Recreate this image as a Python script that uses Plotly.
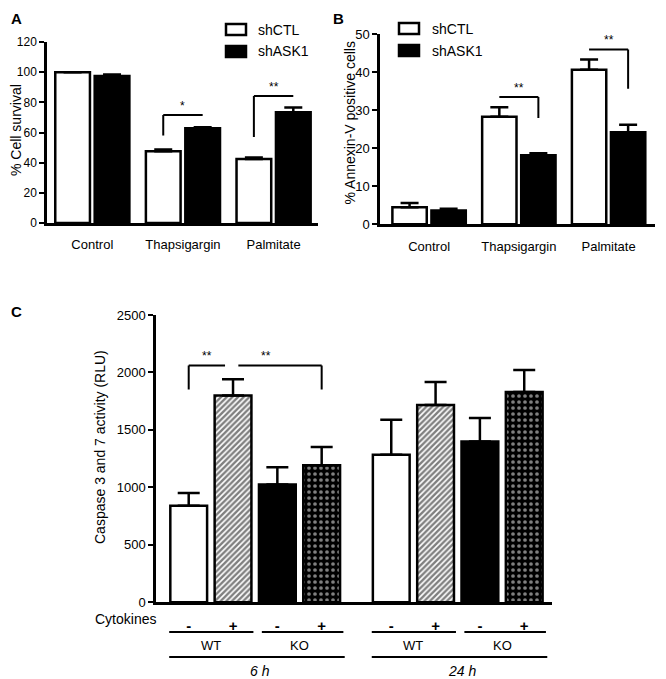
import plotly.graph_objects as go

W, H = 666, 679
# the page body adds an 8px margin, so everything is placed 8px up/left
OFF = 8

# ---- panel A: % cell survival ----
groups = ["Control", "Thapsigargin", "Palmitate"]
surv_shCTL = [100, 47.5, 42.5]
surv_shCTL_err = [0, 1.3, 1.0]
surv_shASK1 = [97.5, 62.8, 73.5]
surv_shASK1_err = [1.0, 0.7, 3.0]

# ---- panel B: % annexin-V positive cells ----
annex_shCTL = [4.5, 28.3, 40.7]
annex_shCTL_err = [1.1, 2.5, 2.7]
annex_shASK1 = [3.6, 18.2, 24.2]
annex_shASK1_err = [0.5, 0.5, 2.0]

# ---- panel C: caspase 3/7 activity ----
time_labels = ["6 h", "24 h"]
geno_labels = ["WT", "KO"]
cyto_labels = ["-", "+", "-", "+"]
casp_6h = [840, 1800, 1024, 1192]
casp_6h_err = [111, 142, 151, 160]
casp_24h = [1283, 1716, 1399, 1829]
casp_24h_err = [305, 200, 204, 192]

# significance brackets: (group, line y, drop y, label)
sig_A = [(1, 71.6, 58, "*"), (2, 84.2, 57, "**")]
sig_B = [(1, 33.5, 28, "**"), (2, 46, 35.7, "**")]

FONT = "Liberation Sans, Arial, sans-serif"


# window pixel -> paper fraction
def px(x):
    return (x - OFF) / W


def py(y):
    return 1 - (y - OFF) / H


def note(x, y, text, size=13, xref="paper", yref="paper", xa="center", ya="middle", angle=0):
    return dict(x=x, y=y, xref=xref, yref=yref, text=text, showarrow=False,
                xanchor=xa, yanchor=ya, textangle=angle, font=dict(size=size))


fig = go.Figure()

# bar styles for the two shRNA series
white = dict(color="white", line=dict(color="black", width=2.5))
black = dict(color="black", line=dict(color="black", width=2.5))


def err(a, w):
    return dict(type="data", array=a, arrayminus=[0] * len(a), symmetric=False,
                color="black", thickness=2.5, width=w)


fig.add_trace(go.Bar(x=groups, y=surv_shCTL, marker=white, error_y=err(surv_shCTL_err, 9),
                     xaxis="x", yaxis="y", showlegend=False))
fig.add_trace(go.Bar(x=groups, y=surv_shASK1, marker=black, error_y=err(surv_shASK1_err, 9),
                     xaxis="x", yaxis="y", showlegend=False))
fig.add_trace(go.Bar(x=groups, y=annex_shCTL, marker=white, error_y=err(annex_shCTL_err, 9),
                     xaxis="x2", yaxis="y2", showlegend=False))
fig.add_trace(go.Bar(x=groups, y=annex_shASK1, marker=black, error_y=err(annex_shASK1_err, 9),
                     xaxis="x2", yaxis="y2", showlegend=False))

# panel C: one trace per condition, bars at 6 h and 24 h
GAP = 0.57
c_pos = [[i + t * (4 + GAP) for t in range(len(time_labels))] for i in range(4)]
c_styles = [
    dict(color="white", line=dict(color="black", width=2.5)),
    dict(color="white", line=dict(color="black", width=2.5),
         pattern=dict(shape="/", fgcolor="black", bgcolor="white", size=4, solidity=0.6)),
    dict(color="black", line=dict(color="black", width=2.5)),
    dict(color="black", line=dict(color="black", width=2.5),
         pattern=dict(shape=".", fgcolor="white", bgcolor="black", size=6, solidity=0.3)),
]
for i in range(4):
    fig.add_trace(go.Bar(x=c_pos[i], y=[casp_6h[i], casp_24h[i]],
                         width=0.83, offset=-0.415, marker=c_styles[i],
                         error_y=err([casp_6h_err[i], casp_24h_err[i]], 11),
                         xaxis="x3", yaxis="y3", showlegend=False))

shapes = []
annos = []
line = dict(color="black", width=2)

# brackets A (left drop) and B (right drop)
off = 0.2175
for g, ly, dy, lab in sig_A:
    shapes.append(dict(type="line", xref="x", yref="y", x0=g - off, x1=g + off, y0=ly, y1=ly, line=line))
    shapes.append(dict(type="line", xref="x", yref="y", x0=g - off, x1=g - off, y0=ly, y1=dy, line=line))
    annos.append(note(g, ly, lab, 12, "x", "y", ya="bottom"))
for g, ly, dy, lab in sig_B:
    shapes.append(dict(type="line", xref="x2", yref="y2", x0=g - off, x1=g + off, y0=ly, y1=ly, line=line))
    shapes.append(dict(type="line", xref="x2", yref="y2", x0=g + off, x1=g + off, y0=ly, y1=dy, line=line))
    annos.append(note(g, ly, lab, 12, "x2", "y2", ya="bottom"))

# brackets C
shapes += [
    dict(type="line", xref="x3", yref="y3", x0=0, x1=0.82, y0=2061, y1=2061, line=line),
    dict(type="line", xref="x3", yref="y3", x0=0, x1=0, y0=2061, y1=1851, line=line),
    dict(type="line", xref="x3", yref="y3", x0=1.12, x1=3, y0=2061, y1=2061, line=line),
    dict(type="line", xref="x3", yref="y3", x0=3, x1=3, y0=2061, y1=1851, line=line),
]
annos.append(note(0.42, 2061, "**", 12, "x3", "y3", ya="bottom"))
annos.append(note(1.74, 2061, "**", 12, "x3", "y3", ya="bottom"))

# C: genotype / time lines and labels under the axis
for t, tl in enumerate(time_labels):
    s = t * (4 + GAP)
    for k, gl in enumerate(geno_labels):
        a = s + 2 * k + (-0.44 if k == 0 else -0.35)
        b = s + 2 * k + 1.46 + (0 if k == 0 else 0.03)
        shapes.append(dict(type="line", xref="x3", yref="paper", x0=a, x1=b,
                           y0=py(632), y1=py(632), line=line))
        annos.append(note(s + 2 * k + 0.5, py(645), gl, 13, "x3"))
    shapes.append(dict(type="line", xref="x3", yref="paper", x0=s - 0.44, x1=s + 3.52,
                       y0=py(657), y1=py(657), line=line))
    annos.append(note(s + 1.6, py(671), "<i>%s</i>" % tl, 14, "x3"))
annos.append(note(px(158), py(619), "Cytokines", 14, xa="right"))

# manual legends for A and B
for lx, ly, tx in [(226, 24, 256), (399, 23, 430)]:
    shapes.append(dict(type="rect", xref="paper", yref="paper", x0=px(lx), x1=px(lx + 20),
                       y0=py(ly), y1=py(ly + 11), fillcolor="white", line=dict(color="black", width=2.5)))
    shapes.append(dict(type="rect", xref="paper", yref="paper", x0=px(lx), x1=px(lx + 20),
                       y0=py(ly + 22), y1=py(ly + 33), fillcolor="black", line=dict(color="black", width=2.5)))
    annos.append(note(px(tx), py(ly + 5.5), "shCTL", 14, xa="left"))
    annos.append(note(px(tx), py(ly + 27.5), "shASK1", 14, xa="left"))

# y axis titles and panel letters
for x, y, t in [(16, 130, "% Cell survival"), (349, 122.5, "% Annexin-V positive cells"),
                (100, 447, "Caspase 3 and 7 activity (RLU)")]:
    annos.append(note(px(x), py(y), t, 14, angle=-90))
for x, y, t in [(8.5, 8.5, "A"), (331, 8.5, "B"), (8.5, 301, "C")]:
    annos.append(note(px(x), py(y), "<b>%s</b>" % t, 15, xa="left", ya="top"))

yax = dict(showline=True, linecolor="black", linewidth=2.5, ticks="outside", ticklen=5,
           tickwidth=2, tickcolor="black", showgrid=False, zeroline=False)
xax = dict(showline=True, linecolor="black", linewidth=2.5, ticks="outside", ticklen=8,
           tickcolor="rgba(0,0,0,0)", showgrid=False, zeroline=False)

fig.update_layout(
    width=W, height=H,
    margin=dict(l=0, r=0, t=0, b=0, autoexpand=False),
    paper_bgcolor="white", plot_bgcolor="white",
    font=dict(family=FONT, color="black", size=13),
    barmode="group", bargap=0.13, bargroupgap=0.12,
    xaxis=dict(xax, domain=[px(47), px(318)], range=[-0.5, 2.49], anchor="y",
               tickfont=dict(size=13)),
    yaxis=dict(yax, domain=[py(223), py(42)], range=[0, 120], dtick=20, anchor="x",
               tickfont=dict(size=12)),
    xaxis2=dict(xax, domain=[px(380), px(655)], range=[-0.547, 2.517], anchor="y2",
                tickfont=dict(size=13)),
    yaxis2=dict(yax, domain=[py(224.3), py(34.3)], range=[0, 50], dtick=10, anchor="x2",
                tickfont=dict(size=13)),
    xaxis3=dict(xax, domain=[px(156), px(551.7)], range=[-0.738, 8.19], anchor="y3",
                tickvals=[p for t in range(2) for p in [c_pos[i][t] for i in range(4)]],
                ticktext=["<b>%s</b>" % c for c in cyto_labels] * 2, ticklen=8,
                tickfont=dict(size=15)),
    yaxis3=dict(yax, domain=[py(602.3), py(315)], range=[0, 2500], dtick=500, anchor="x3",
                tickfont=dict(size=13)),
    shapes=shapes,
    annotations=annos,
)

fig.write_html("out.html")
